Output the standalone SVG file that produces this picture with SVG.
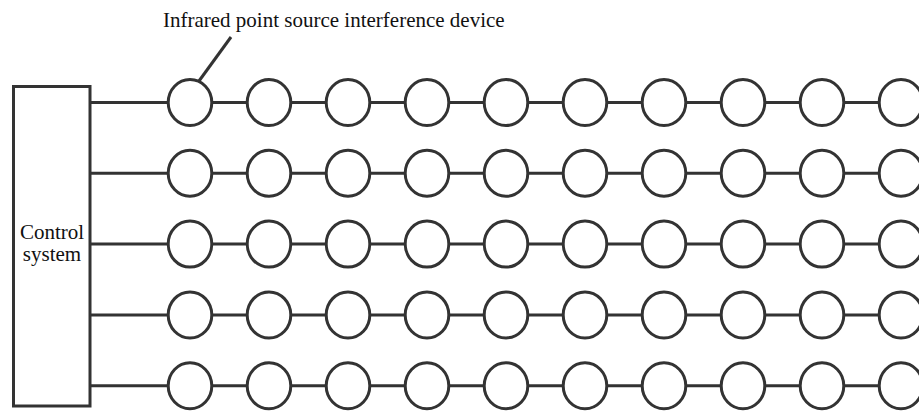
<svg xmlns="http://www.w3.org/2000/svg" width="919" height="411" viewBox="0 0 919 411">
<style>
.s{fill:none;stroke:#333;stroke-width:3}
.n{fill:#fff;stroke:#333;stroke-width:3}
.t{font-family:"Liberation Serif","Times New Roman",serif;font-size:21px;fill:#111}
</style>
<defs>
<ellipse id="c" cx="0" cy="0" rx="21.8" ry="23" class="n"/>
</defs>
<rect width="919" height="411" fill="#fff"/>
<g id="connectors" class="s">
<line x1="90" y1="102.5" x2="901" y2="102.5"/>
<line x1="90" y1="173.3" x2="901" y2="173.3"/>
<line x1="90" y1="244.1" x2="901" y2="244.1"/>
<line x1="90" y1="314.9" x2="901" y2="314.9"/>
<line x1="90" y1="385.7" x2="901" y2="385.7"/>
<line x1="231" y1="37" x2="199" y2="81"/>
</g>
<g id="control-system">
<rect x="13.5" y="86.5" width="76.5" height="319.5" class="n"/>
<text class="t" x="52" y="239" text-anchor="middle">Control</text>
<text class="t" x="52" y="261" text-anchor="middle">system</text>
</g>
<g id="label">
<text class="t" x="163" y="27">Infrared point source interference device</text>
</g>
<g id="devices">
<g id="row1" transform="translate(0,102.5)">
<use href="#c" x="190"/><use href="#c" x="269"/><use href="#c" x="348"/><use href="#c" x="427"/><use href="#c" x="506"/><use href="#c" x="585"/><use href="#c" x="664"/><use href="#c" x="743"/><use href="#c" x="822"/><use href="#c" x="901"/>
</g>
<g id="row2" transform="translate(0,173.3)">
<use href="#c" x="190"/><use href="#c" x="269"/><use href="#c" x="348"/><use href="#c" x="427"/><use href="#c" x="506"/><use href="#c" x="585"/><use href="#c" x="664"/><use href="#c" x="743"/><use href="#c" x="822"/><use href="#c" x="901"/>
</g>
<g id="row3" transform="translate(0,244.1)">
<use href="#c" x="190"/><use href="#c" x="269"/><use href="#c" x="348"/><use href="#c" x="427"/><use href="#c" x="506"/><use href="#c" x="585"/><use href="#c" x="664"/><use href="#c" x="743"/><use href="#c" x="822"/><use href="#c" x="901"/>
</g>
<g id="row4" transform="translate(0,314.9)">
<use href="#c" x="190"/><use href="#c" x="269"/><use href="#c" x="348"/><use href="#c" x="427"/><use href="#c" x="506"/><use href="#c" x="585"/><use href="#c" x="664"/><use href="#c" x="743"/><use href="#c" x="822"/><use href="#c" x="901"/>
</g>
<g id="row5" transform="translate(0,385.7)">
<use href="#c" x="190"/><use href="#c" x="269"/><use href="#c" x="348"/><use href="#c" x="427"/><use href="#c" x="506"/><use href="#c" x="585"/><use href="#c" x="664"/><use href="#c" x="743"/><use href="#c" x="822"/><use href="#c" x="901"/>
</g>
</g>
</svg>
